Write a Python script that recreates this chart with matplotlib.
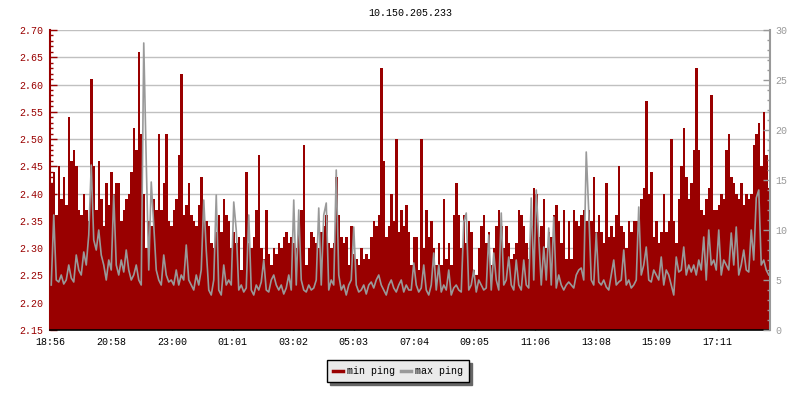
import matplotlib.pyplot as plt
from matplotlib.lines import Line2D
from matplotlib.ticker import MultipleLocator
import numpy as np

plt.rcParams['font.family'] = ['Liberation Mono', 'DejaVu Sans Mono']
plt.rcParams['font.size'] = 7.2

title = '10.150.205.233'
step_min = 5  # one sample every 5 minutes, 24 h total

# min ping (ms), left axis
min_ping = [
    2.42, 2.44, 2.36, 2.45, 2.39, 2.43, 2.38, 2.54, 2.46, 2.48, 2.45, 2.37, 2.36, 2.40, 2.37, 2.35, 2.61, 2.45,
    2.37, 2.46, 2.39, 2.34, 2.42, 2.38, 2.44, 2.40, 2.42, 2.42, 2.35, 2.37, 2.39, 2.40, 2.44, 2.52, 2.48, 2.66,
    2.51, 2.40, 2.30, 2.35, 2.34, 2.39, 2.37, 2.51, 2.37, 2.42, 2.51, 2.35, 2.34, 2.37, 2.39, 2.47, 2.62, 2.36,
    2.38, 2.42, 2.36, 2.35, 2.34, 2.38, 2.43, 2.37, 2.35, 2.34, 2.31, 2.30, 2.33, 2.36, 2.33, 2.39, 2.36, 2.35,
    2.30, 2.33, 2.31, 2.32, 2.26, 2.32, 2.44, 2.31, 2.30, 2.32, 2.37, 2.47, 2.30, 2.28, 2.37, 2.29, 2.27, 2.30,
    2.29, 2.31, 2.30, 2.32, 2.33, 2.31, 2.32, 2.31, 2.30, 2.35, 2.37, 2.49, 2.27, 2.30, 2.33, 2.32, 2.31, 2.30,
    2.33, 2.34, 2.36, 2.31, 2.30, 2.31, 2.43, 2.36, 2.32, 2.31, 2.32, 2.27, 2.34, 2.29, 2.28, 2.27, 2.30, 2.28,
    2.29, 2.28, 2.32, 2.35, 2.34, 2.36, 2.63, 2.46, 2.32, 2.34, 2.40, 2.35, 2.50, 2.33, 2.37, 2.34, 2.38, 2.33,
    2.27, 2.32, 2.32, 2.26, 2.50, 2.30, 2.37, 2.32, 2.35, 2.30, 2.27, 2.31, 2.27, 2.39, 2.28, 2.31, 2.27, 2.36,
    2.42, 2.36, 2.30, 2.36, 2.31, 2.35, 2.33, 2.26, 2.25, 2.30, 2.34, 2.36, 2.31, 2.33, 2.27, 2.30, 2.34, 2.37,
    2.34, 2.30, 2.34, 2.31, 2.28, 2.29, 2.31, 2.37, 2.36, 2.34, 2.31, 2.28, 2.34, 2.41, 2.40, 2.32, 2.34, 2.39,
    2.30, 2.33, 2.32, 2.36, 2.38, 2.35, 2.31, 2.37, 2.28, 2.35, 2.28, 2.37, 2.35, 2.34, 2.36, 2.37, 2.35, 2.37,
    2.35, 2.43, 2.33, 2.36, 2.33, 2.31, 2.42, 2.32, 2.34, 2.32, 2.36, 2.45, 2.34, 2.33, 2.30, 2.35, 2.33, 2.35,
    2.35, 2.34, 2.39, 2.41, 2.57, 2.40, 2.44, 2.32, 2.35, 2.31, 2.33, 2.40, 2.33, 2.35, 2.50, 2.35, 2.31, 2.39,
    2.45, 2.52, 2.43, 2.39, 2.42, 2.48, 2.63, 2.48, 2.37, 2.36, 2.39, 2.41, 2.58, 2.37, 2.37, 2.38, 2.40, 2.39,
    2.48, 2.51, 2.43, 2.42, 2.40, 2.39, 2.42, 2.38, 2.40, 2.39, 2.40, 2.49, 2.51, 2.53, 2.45, 2.55, 2.47, 2.41,
]

# max ping (ms), right axis
max_ping = [
    4.5, 11.5, 5.0, 4.8, 5.5, 4.6, 5.0, 6.5, 5.2, 4.8, 7.5, 6.0, 5.5, 7.8, 6.5, 9.5, 16.5, 9.0,
    8.0, 10.0, 7.5, 6.5, 5.0, 7.0, 6.0, 13.5, 6.5, 5.5, 7.0, 5.8, 8.0, 6.0, 5.0, 5.5, 6.5, 5.0,
    4.5, 28.7, 16.8, 6.0, 14.8, 10.5, 6.0, 5.0, 4.5, 7.5, 5.5, 4.8, 5.0, 4.5, 6.0, 4.5, 5.5, 5.0,
    8.5, 5.0, 4.5, 4.0, 5.5, 4.5, 6.0, 13.0, 8.0, 4.0, 3.5, 5.0, 13.5, 4.0, 3.5, 6.5, 4.5, 5.0,
    4.5, 12.8, 10.0, 4.0, 4.5, 3.8, 4.2, 11.5, 4.0, 3.5, 4.5, 4.0, 4.8, 7.0, 4.0, 3.8, 5.0, 5.5,
    4.5, 4.0, 4.5, 3.6, 4.2, 5.5, 4.0, 13.0, 4.5, 12.0, 5.0, 4.0, 3.8, 4.5, 4.0, 4.2, 5.0, 12.2,
    4.5, 11.5, 12.7, 4.0, 5.0, 4.5, 16.0, 5.5, 4.0, 4.5, 3.5, 4.5, 5.0, 10.3, 4.5, 3.8, 4.0, 4.5,
    3.6, 4.5, 4.8, 4.2, 5.0, 5.5, 4.5, 4.0, 3.5, 4.5, 5.0, 4.2, 3.8, 4.5, 5.0, 3.8, 4.5, 4.0,
    4.0, 6.7, 4.5, 3.8, 4.2, 6.5, 4.0, 3.5, 4.5, 7.7, 4.0, 6.5, 3.8, 4.5, 4.0, 6.0, 3.5, 4.2,
    4.5, 4.0, 3.8, 10.8, 11.7, 4.0, 4.5, 6.0, 3.8, 5.0, 4.5, 4.0, 4.2, 9.5, 4.0, 7.7, 5.0, 4.0,
    11.7, 4.5, 5.0, 7.3, 4.5, 4.0, 7.0, 4.5, 4.0, 7.0, 4.5, 4.2, 13.2, 5.0, 14.0, 9.3, 4.5, 8.3,
    5.0, 10.2, 4.5, 11.3, 4.2, 5.5, 4.5, 4.0, 4.5, 4.8, 4.5, 4.2, 5.5, 6.0, 6.2, 5.0, 17.8, 11.8,
    5.0, 4.5, 9.7, 4.8, 4.5, 5.0, 4.3, 4.0, 5.5, 7.0, 4.5, 4.8, 5.0, 8.0, 4.5, 5.0, 4.2, 4.5,
    5.0, 12.3, 5.5, 6.5, 8.3, 5.0, 4.8, 6.0, 5.5, 5.0, 7.3, 4.5, 6.0, 5.5, 4.5, 3.5, 7.3, 5.8,
    6.0, 8.3, 5.5, 6.5, 5.8, 6.5, 5.5, 7.0, 6.0, 9.3, 5.0, 10.0, 6.5, 7.0, 6.0, 10.0, 5.5, 7.0,
    6.5, 6.0, 9.7, 6.5, 10.3, 5.5, 6.5, 8.0, 6.0, 5.8, 10.0, 7.0, 13.2, 14.0, 6.5, 7.0, 6.0, 5.5,
]

tick_minutes = [0, 122, 244, 365, 486, 607, 728, 849, 970, 1092, 1213, 1335]
tick_labels = ['18:56', '20:58', '23:00', '01:01', '03:02', '05:03',
               '07:04', '09:05', '11:06', '13:08', '15:09', '17:11']

red = '#990000'
gray = '#999999'

fig = plt.figure(figsize=(8, 4), dpi=100)
ax = fig.add_axes([0.0625, 0.175, 0.9, 0.75])

t = np.arange(len(min_ping)) * step_min
ax.bar(t, min_ping, width=step_min, align='edge', color=red, linewidth=0,
       antialiased=False, zorder=2)
ax.set_xlim(0, len(min_ping) * step_min)
ax.set_ylim(2.15, 2.70)
yt = np.arange(2.15, 2.701, 0.05)
ax.set_yticks(yt)
ax.set_yticklabels(['%.2f' % v for v in yt])
ax.yaxis.set_minor_locator(MultipleLocator(0.01))
ax.set_xticks(tick_minutes)
ax.set_xticklabels(tick_labels)
ax.grid(axis='y', color='#c0c0c0', linewidth=1, zorder=0)
ax.set_axisbelow(True)

ax.tick_params(axis='y', which='both', direction='in', colors=red, pad=5)
ax.tick_params(axis='y', which='major', length=5, width=1)
ax.tick_params(axis='y', which='minor', length=2.5, width=1)
ax.tick_params(axis='x', direction='in', length=5, width=1, colors='black', pad=5)
ax.spines['left'].set_color(red)
ax.spines['left'].set_linewidth(1.5)
ax.spines['top'].set_visible(False)
ax.spines['right'].set_visible(False)
ax.spines['bottom'].set_linewidth(1.2)

# max ping on its own scale
ax2 = ax.twinx()
ax2.plot(t + step_min / 2, max_ping, color=gray, linewidth=1.2, zorder=3)
ax2.set_ylim(0, 30)
ax2.set_yticks(np.arange(0, 31, 5))
ax2.yaxis.set_minor_locator(MultipleLocator(1))
ax2.tick_params(axis='y', which='both', direction='in', colors=gray, pad=4)
ax2.tick_params(axis='y', which='major', length=5, width=1)
ax2.tick_params(axis='y', which='minor', length=2.5, width=1)
for s in ['left', 'top', 'bottom']:
    ax2.spines[s].set_visible(False)
ax2.spines['right'].set_color(gray)
ax2.spines['right'].set_linewidth(1.5)

fig.text(0.5125, 0.9675, title, ha='center', va='center', color='black')

handles = [Line2D([], [], color=red, linewidth=2.5),
           Line2D([], [], color=gray, linewidth=2.5)]
leg = fig.legend(handles, ['min ping', 'max ping'], loc='center',
                 bbox_to_anchor=(0.4975, 0.0725), ncol=2, fancybox=False,
                 edgecolor='black', facecolor='#eaeaea', framealpha=1,
                 shadow={'color': '#666666', 'alpha': 1},
                 handlelength=1.0, handletextpad=0.4, columnspacing=0.6,
                 borderpad=0.6, borderaxespad=0)
leg.get_frame().set_linewidth(1)

fig.savefig('out.png', dpi=100)
